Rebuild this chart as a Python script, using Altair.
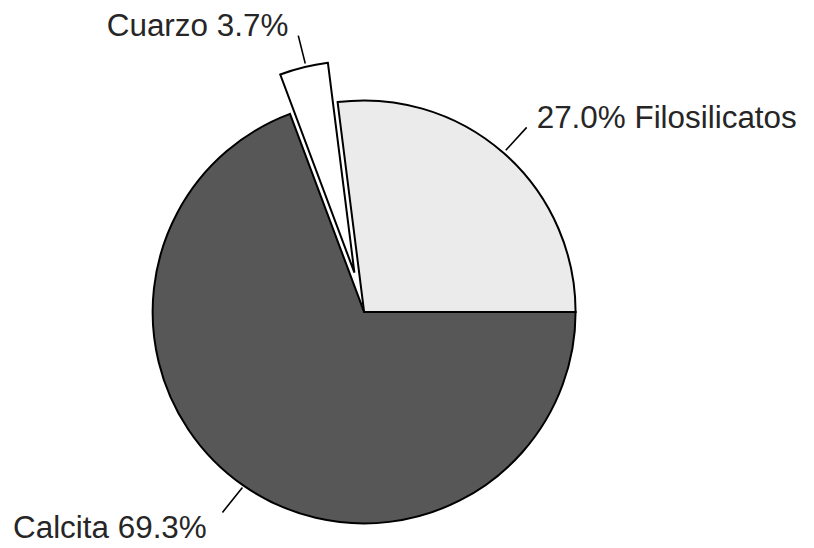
import math
import altair as alt
import pandas as pd

# ---- data ----
categorias = ["Calcita", "Cuarzo", "Filosilicatos"]
valores = [69.3, 3.7, 27.0]
orden = [0, 1, 2]
separacion = [0.0, 40.6, 0.0]          # exploded distance (px) per slice
etiquetas = ["Calcita 69.3%", "Cuarzo 3.7%", "27.0% Filosilicatos"]

# ---- styles / layout ----
rellenos = ["#575757", "#ffffff", "#ebebeb"]
W, H = 800, 538
CX, CY, R = 357, 304, 212
FONT = "Liberation Sans"
FS = 31.5

df = pd.DataFrame({
    "categoria": categorias,
    "valor": valores,
    "orden": orden,
    "sep": separacion,
})

theta_scale = alt.Scale(domain=[0, 100], range=[math.pi / 2, math.pi / 2 + 2 * math.pi])

pie = (
    alt.Chart(df)
    .transform_window(fin="sum(valor)", sort=[alt.SortField("orden")], frame=[None, 0])
    .transform_calculate(inicio="datum.fin - datum.valor")
    .transform_calculate(mid=f"{math.pi/2} + 2*PI*(datum.inicio + datum.fin)/200")
    .transform_calculate(px=f"{CX} + datum.sep*sin(datum.mid)",
                         py=f"{CY} - datum.sep*cos(datum.mid)")
    .mark_arc(radius=R, stroke="black", strokeWidth=2)
    .encode(
        theta=alt.Theta("inicio:Q", scale=theta_scale),
        theta2="fin:Q",
        x=alt.X("px:Q", scale=None, axis=None),
        y=alt.Y("py:Q", scale=None, axis=None),
        fill=alt.Fill("categoria:N", scale=alt.Scale(domain=categorias, range=rellenos), legend=None),
        order=alt.Order("orden:Q"),
    )
)

# label layout (plot coordinates): text anchor, leader line
layout = {
    "Calcita 69.3%": dict(tx=5, ty=531, l=(215, 505, 235, 480)),
    "Cuarzo 3.7%": dict(tx=99, ty=27, l=(291, 27, 298, 55)),
    "27.0% Filosilicatos": dict(tx=530, ty=120, l=(499, 142, 520, 119)),
}

capas = [pie]
for et in etiquetas:
    p = layout[et]
    capas.append(
        alt.Chart(pd.DataFrame({"t": [et]}))
        .mark_text(align="left", baseline="alphabetic", font=FONT, fontSize=FS, color="#262626")
        .encode(text="t:N", x=alt.value(p["tx"]), y=alt.value(p["ty"]))
    )
    x1, y1, x2, y2 = p["l"]
    capas.append(
        alt.Chart(pd.DataFrame({"t": [et]}))
        .mark_rule(color="black", strokeWidth=1.6)
        .encode(x=alt.value(x1), y=alt.value(y1), x2=alt.value(x2), y2=alt.value(y2))
    )

chart = (
    alt.layer(*capas)
    .properties(width=W, height=H, padding=0, autosize="none", background="white")
    .configure_view(stroke=None)
)

chart.save("out.html", embed_options={"renderer": "svg", "actions": False})
